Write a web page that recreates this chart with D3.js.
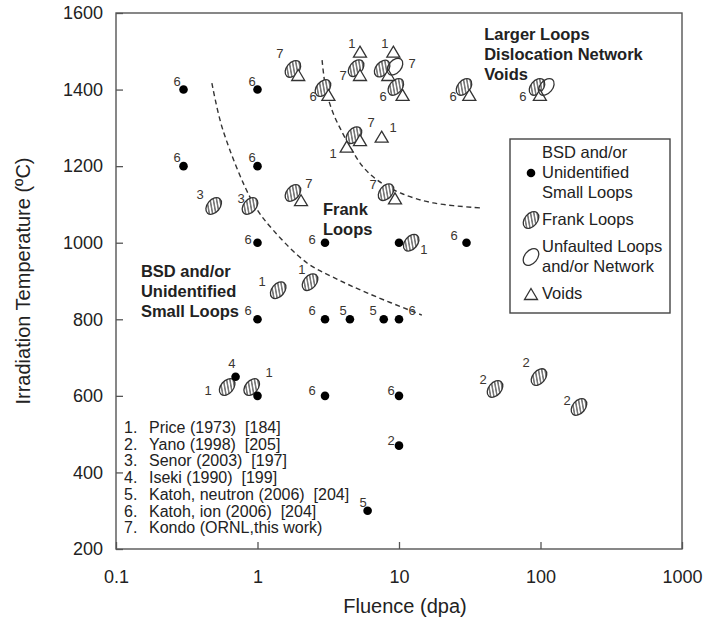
<!DOCTYPE html>
<html><head><meta charset="utf-8">
<script src="https://cdn.jsdelivr.net/npm/d3@7"></script>
<style>
body{margin:0;background:#fff}
svg{display:block;font-family:"Liberation Sans",Arial,Helvetica,sans-serif}
</style>
</head><body>
<svg id="chart" width="709" height="624"></svg>
<script>
// ---------- data ----------
const xTicks = [0.1, 1, 10, 100, 1000];
const xTickLabels = ["0.1", "1", "10", "100", "1000"];
const yTicks = [200, 400, 600, 800, 1000, 1200, 1400, 1600];

// [fluence (dpa), irradiation temperature (°C)]
const bsdSmallLoops = [
  [0.3,1400],[1,1400],[0.3,1200],[1,1200],
  [1,1000],[3,1000],[10,1000],[30,1000],
  [1,800],[3,800],[4.5,800],[7.8,800],[10,800],
  [0.7,650],[1,600],[3,600],[10,600],[10,470],[6,300]
];
const frankLoops = [
  [0.61,623],[0.91,623],[0.49,1096],[0.885,1096],[1.78,1130],
  [1.4,876],[2.35,897],[12.2,1000],
  [1.78,1454],[2.9,1404],[4.97,1456],[7.6,1455],[9.5,1407],[28.8,1407],[94.5,1407],
  [4.8,1281],[8.1,1132],
  [47.7,618],[97.5,649],[187,571]
];
const unfaultedLoops = [[9.37,1460],[110,1407]];
const voids = [
  [5.3,1499],[9.12,1499],[1.94,1438],[5.3,1438],[8.4,1438],
  [3.17,1386],[10.6,1386],[31.4,1386],[99,1386],
  [5.3,1268],[4.27,1251],[7.54,1277],[9.37,1116],[2.03,1111]
];
// reference number annotations: [ref, fluence, temperature]
const refLabels = [
  [6,0.27,1422],[6,0.915,1422],[6,0.27,1224],[6,0.915,1224],[7,1.44,1495],
  [1,4.65,1521],[1,7.96,1521],[7,4.02,1438],[7,12.4,1469],
  [6,2.47,1383],[6,7.71,1383],[6,24.1,1383],[6,75.2,1383],
  [7,6.34,1315],[1,9.07,1302],[1,3.42,1234],
  [3,0.393,1127],[3,0.765,1117],[7,2.31,1156],[7,6.55,1153],
  [6,0.857,1010],[6,2.43,1010],[1,15.0,983],[6,24.5,1020],
  [1,1.08,900],[1,2.06,931],
  [6,0.857,824],[6,2.43,824],[5,4.02,824],[5,6.55,824],[6,12.4,824],
  [4,0.66,686],[1,1.21,662],[1,0.447,615],[6,2.43,615],[6,8.78,615],
  [2,8.78,485],[5,5.57,323],[2,39.3,644],[2,79,688],[2,154,589]
];
// regime boundaries (dashed)
const boundaryBSD = [[0.476,1417],[0.57,1294],[0.93,1104],[1.29,1033],[2.24,947],[3.42,910],[5.94,869],[14.5,811]];
const boundaryFrank = [[2.86,1477],[3.05,1399],[3.42,1339],[3.96,1289],[4.65,1242],[5.57,1198],[7.0,1164],[10.2,1130],[17.4,1104],[37.4,1091]];
// region annotations: [lines, fluence, temperature of first baseline]
const regionLabels = [
  [["Larger Loops","Dislocation Network","Voids"], 40, 1530],
  [["Frank","Loops"], 2.9, 1073],
  [["BSD and/or","Unidentified","Small Loops"], 0.15, 910]
];
const legendItems = [
  {type:"bsd", lines:["BSD and/or","Unidentified","Small Loops"]},
  {type:"frank", lines:["Frank Loops"]},
  {type:"unfaulted", lines:["Unfaulted Loops","and/or Network"]},
  {type:"void", lines:["Voids"]}
];
const references = [
  ["1.","Price (1973)  [184]"],
  ["2.","Yano (1998)  [205]"],
  ["3.","Senor (2003)  [197]"],
  ["4.","Iseki (1990)  [199]"],
  ["5.","Katoh, neutron (2006)  [204]"],
  ["6.","Katoh, ion (2006)  [204]"],
  ["7.","Kondo (ORNL,this work)"]
];

// ---------- drawing ----------
const svg = d3.select("#chart");
const L = 116, R = 682, T = 13, B = 549;
const x = d3.scaleLog().domain([0.1, 1000]).range([L, R]);
const y = d3.scaleLinear().domain([200, 1600]).range([B, T]);
const ink = "#333", axisCol = "#555", textCol = "#222";

const defs = svg.append("defs");
const pat = defs.append("pattern").attr("id","hatch").attr("patternUnits","userSpaceOnUse")
  .attr("width",3.2).attr("height",3.2).attr("patternTransform","rotate(40)");
pat.append("rect").attr("width",3.2).attr("height",3.2).attr("fill","#fff");
pat.append("line").attr("x1",0.8).attr("y1",0).attr("x2",0.8).attr("y2",3.2).attr("stroke","#3a3a3a").attr("stroke-width",1.1);

// axes
const xAxis = d3.axisBottom(x).tickValues(xTicks).tickFormat((d,i)=>xTickLabels[i])
  .tickSizeInner(-7).tickSizeOuter(0).tickPadding(21);
const yAxis = d3.axisLeft(y).tickValues(yTicks).tickFormat(d3.format("d"))
  .tickSizeInner(-7).tickSizeOuter(0).tickPadding(13);
const gx = svg.append("g").attr("transform",`translate(0,${B})`).call(xAxis);
const gy = svg.append("g").attr("transform",`translate(${L},0)`).call(yAxis);
[gx, gy].forEach(g => {
  g.select(".domain").remove();
  g.selectAll(".tick line").attr("stroke", axisCol).attr("stroke-width",1.3);
  g.selectAll(".tick text").attr("fill", textCol).style("font-size","18px")
    .style("font-family",'"Liberation Sans",Arial,sans-serif');
});
svg.append("rect").attr("x",L).attr("y",T).attr("width",R-L).attr("height",B-T)
  .attr("fill","none").attr("stroke",axisCol).attr("stroke-width",1.4);

svg.append("text").attr("x",405).attr("y",613).attr("text-anchor","middle")
  .attr("fill",textCol).style("font-size","20px").text("Fluence (dpa)");
svg.append("text").attr("transform",`translate(30,${(T+B)/2}) rotate(-90)`).attr("text-anchor","middle")
  .attr("fill",textCol).style("font-size","20px").text("Irradiation Temperature (ºC)");

// dashed boundaries
const line = d3.line().x(d=>x(d[0])).y(d=>y(d[1])).curve(d3.curveCatmullRom.alpha(0.5));
[boundaryBSD, boundaryFrank].forEach(b => svg.append("path").attr("d", line(b))
  .attr("fill","none").attr("stroke",ink).attr("stroke-width",1.4).attr("stroke-dasharray","5,3.5"));

// marker helpers
const triPath = "M0,-5.5L6.5,5.5L-6.5,5.5Z";
function drawFrank(sel){ sel.append("ellipse").attr("rx",9.5).attr("ry",6.3).attr("transform","rotate(-50)")
  .attr("fill","url(#hatch)").attr("stroke",ink).attr("stroke-width",1.3); }
function drawUnfaulted(sel){ sel.append("ellipse").attr("rx",9.5).attr("ry",6.3).attr("transform","rotate(-50)")
  .attr("fill","none").attr("stroke",ink).attr("stroke-width",1.3); }
function drawVoid(sel){ sel.append("path").attr("d",triPath).attr("fill","#fff").attr("stroke",ink).attr("stroke-width",1.3); }
function drawBsd(sel){ sel.append("circle").attr("r",4.3).attr("fill","#000"); }

const gm = svg.append("g");
drawFrank(gm.selectAll("g.fr").data(frankLoops).join("g").attr("class","fr")
  .attr("transform",d=>`translate(${x(d[0])},${y(d[1])})`));
drawVoid(gm.selectAll("g.vd").data(voids).join("g").attr("class","vd")
  .attr("transform",d=>`translate(${x(d[0])},${y(d[1])})`));
drawUnfaulted(gm.selectAll("g.uf").data(unfaultedLoops).join("g").attr("class","uf")
  .attr("transform",d=>`translate(${x(d[0])},${y(d[1])})`));
drawBsd(gm.selectAll("g.bs").data(bsdSmallLoops).join("g").attr("class","bs")
  .attr("transform",d=>`translate(${x(d[0])},${y(d[1])})`));

// reference numbers
svg.append("g").selectAll("text").data(refLabels).join("text")
  .attr("x",d=>x(d[1])).attr("y",d=>y(d[2])).attr("dy","0.36em").attr("text-anchor","middle")
  .attr("fill","#3a3530").style("font-size","13px").text(d=>d[0]);

// region labels
regionLabels.forEach(([lines,f,t]) => {
  const tx = svg.append("text").attr("x",x(f)).attr("y",y(t)).attr("fill",textCol)
    .style("font-size","16.5px").style("font-weight","bold");
  lines.forEach((s,i)=>tx.append("tspan").attr("x",x(f)).attr("dy", i? 20 : 0).text(s));
});

// legend
const lg = svg.append("g");
lg.append("rect").attr("x",510).attr("y",139).attr("width",160).attr("height",174)
  .attr("fill","#fff").attr("stroke","#444").attr("stroke-width",1.4);
const drawers = {bsd:drawBsd, frank:drawFrank, unfaulted:drawUnfaulted, void:drawVoid};
let by = 158;
legendItems.forEach(it => {
  const n = it.lines.length, lh = 20;
  const cy = by + (n-1)*lh/2 - 5;
  const icon = lg.append("g").attr("transform",`translate(531,${cy})`);
  drawers[it.type](icon);
  const t = lg.append("text").attr("x",542).attr("y",by).attr("fill",textCol).style("font-size","16.5px");
  it.lines.forEach((s,i)=>t.append("tspan").attr("x",542).attr("dy", i? lh : 0).text(s));
  by += n*lh + 7;
});

// reference list
const rl = svg.append("g").style("font-size","16px").attr("fill",textCol);
references.forEach((r,i) => {
  const yy = 433 + i*16.7;
  rl.append("text").attr("x",124).attr("y",yy).text(r[0]);
  rl.append("text").attr("x",149).attr("y",yy).style("white-space","pre").text(r[1]);
});
</script>
</body></html>
